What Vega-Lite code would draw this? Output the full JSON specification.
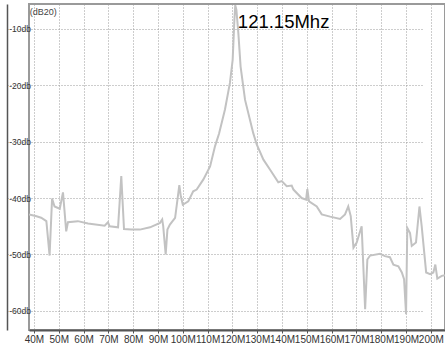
{
  "$schema": "https://vega.github.io/schema/vega-lite/v6.json",
  "autosize": "none",
  "padding": {"left": 29, "top": 4, "right": 0, "bottom": 15},
  "width": 416,
  "height": 326,
  "background": "white",
  "config": {
    "view": {"stroke": "#9a9a9a", "strokeWidth": 2},
    "font": "Liberation Sans",
    "axisX": {
      "title": null,
      "labelFontSize": 10,
      "labelColor": "#333333",
      "labelPadding": 1,
      "labelFlush": false,
      "labelOverlap": false,
      "labelSeparation": 0,
      "labelBound": false,
      "domainColor": "#555555",
      "domainWidth": 2,
      "tickColor": "#555555",
      "tickSize": 3,
      "grid": true,
      "gridColor": "#9a9a9a",
      "gridDash": [1, 2],
      "gridWidth": 1
    },
    "axisY": {
      "title": null,
      "labelFontSize": 8.5,
      "labelColor": "#333333",
      "labelAlign": "right",
      "offset": 22,
      "labelPadding": -23.5,
      "ticks": false,
      "domainColor": "#555555",
      "domainWidth": 1.5,
      "grid": true,
      "gridColor": "#9a9a9a",
      "gridDash": [1, 2],
      "gridWidth": 1
    }
  },
  "layer": [
    {
      "data": {"values": [
        {"f": 38.0, "db": -42.9}, {"f": 40.7, "db": -43.2}, {"f": 42.9, "db": -43.5}, {"f": 45.0, "db": -44.1},
        {"f": 46.3, "db": -50.2}, {"f": 47.3, "db": -40.1}, {"f": 48.3, "db": -41.5}, {"f": 50.4, "db": -41.9},
        {"f": 51.7, "db": -39.0}, {"f": 53.0, "db": -45.9}, {"f": 53.7, "db": -44.3}, {"f": 57.7, "db": -44.1},
        {"f": 61.8, "db": -44.5}, {"f": 68.5, "db": -44.9}, {"f": 69.8, "db": -44.3}, {"f": 70.5, "db": -45.0},
        {"f": 73.9, "db": -45.2}, {"f": 75.2, "db": -36.1}, {"f": 76.3, "db": -45.5}, {"f": 79.2, "db": -45.6},
        {"f": 82.7, "db": -45.6}, {"f": 86.8, "db": -45.2}, {"f": 90.8, "db": -44.4}, {"f": 91.7, "db": -43.8},
        {"f": 92.1, "db": -45.0}, {"f": 93.1, "db": -50.0}, {"f": 93.8, "db": -45.6}, {"f": 94.8, "db": -44.7},
        {"f": 96.9, "db": -43.5}, {"f": 98.6, "db": -37.7}, {"f": 99.2, "db": -39.7}, {"f": 100.0, "db": -41.2},
        {"f": 102.2, "db": -40.6}, {"f": 104.2, "db": -38.8}, {"f": 105.6, "db": -38.5}, {"f": 108.3, "db": -36.7},
        {"f": 111.0, "db": -34.4}, {"f": 113.0, "db": -30.8}, {"f": 114.6, "db": -28.6}, {"f": 117.0, "db": -24.3},
        {"f": 119.0, "db": -19.6}, {"f": 120.1, "db": -15.5}, {"f": 120.8, "db": -8.4}, {"f": 121.15, "db": -5.8},
        {"f": 121.6, "db": -6.6}, {"f": 122.4, "db": -10.8}, {"f": 123.3, "db": -16.7}, {"f": 125.1, "db": -22.6},
        {"f": 128.4, "db": -28.5}, {"f": 129.8, "db": -30.5}, {"f": 132.5, "db": -33.2}, {"f": 135.2, "db": -35.0},
        {"f": 138.5, "db": -37.2}, {"f": 139.9, "db": -37.0}, {"f": 141.9, "db": -37.9}, {"f": 143.9, "db": -37.8},
        {"f": 144.6, "db": -38.5}, {"f": 147.9, "db": -40.0}, {"f": 149.7, "db": -40.3}, {"f": 150.2, "db": -38.4},
        {"f": 150.9, "db": -40.6}, {"f": 154.0, "db": -41.5}, {"f": 156.0, "db": -42.9}, {"f": 159.4, "db": -43.3},
        {"f": 163.4, "db": -43.7}, {"f": 165.4, "db": -42.9}, {"f": 166.7, "db": -41.5}, {"f": 167.7, "db": -43.2},
        {"f": 168.8, "db": -48.8}, {"f": 170.1, "db": -47.9}, {"f": 172.1, "db": -45.0}, {"f": 173.5, "db": -59.7},
        {"f": 174.4, "db": -50.9}, {"f": 175.5, "db": -50.2}, {"f": 179.5, "db": -49.9}, {"f": 181.5, "db": -50.3},
        {"f": 183.5, "db": -50.5}, {"f": 184.9, "db": -51.8}, {"f": 186.9, "db": -52.1}, {"f": 188.3, "db": -53.2},
        {"f": 189.2, "db": -54.4}, {"f": 190.0, "db": -60.6}, {"f": 190.5, "db": -45.3}, {"f": 191.6, "db": -46.2},
        {"f": 192.3, "db": -48.5}, {"f": 194.0, "db": -47.9}, {"f": 195.4, "db": -41.5}, {"f": 196.3, "db": -45.0},
        {"f": 198.1, "db": -53.2}, {"f": 199.7, "db": -53.5}, {"f": 201.0, "db": -53.2}, {"f": 201.8, "db": -51.8},
        {"f": 202.6, "db": -54.3}, {"f": 204.4, "db": -53.8}, {"f": 205.7, "db": -53.7}
      ]},
      "mark": {"type": "line", "color": "#c2c2c2", "strokeWidth": 2, "clip": true},
      "encoding": {
        "x": {
          "field": "f", "type": "quantitative",
          "scale": {"domain": [38.0, 205.7], "nice": false, "zero": false},
          "axis": {
            "values": [40, 50, 60, 70, 80, 90, 100, 110, 120, 130, 140, 150, 160, 170, 180, 190, 200],
            "labelExpr": "datum.value + 'M'",
            "labelOverlap": false
          }
        },
        "y": {
          "field": "db", "type": "quantitative",
          "scale": {"domain": [-63.4, -5.6], "nice": false, "zero": false},
          "axis": {
            "values": [-60, -50, -40, -30, -20, -10],
            "labelExpr": "datum.value + 'db'"
          }
        }
      }
    },
    {
      "data": {"values": [
        {"label": "121.15Mhz", "f": 122.2, "db": -9.9, "size": 18.5, "color": "#000000"},
        {"label": "(dB20)", "f": 38.3, "db": -7.6, "size": 9, "color": "#444444"}
      ]},
      "mark": {"type": "text", "align": "left", "baseline": "alphabetic"},
      "encoding": {
        "x": {"field": "f", "type": "quantitative",
          "axis": {
            "values": [40, 50, 60, 70, 80, 90, 100, 110, 120, 130, 140, 150, 160, 170, 180, 190, 200],
            "labelExpr": "datum.value + 'M'",
            "labelOverlap": false
          }
        },
        "y": {"field": "db", "type": "quantitative",
          "axis": {
            "values": [-60, -50, -40, -30, -20, -10],
            "labelExpr": "datum.value + 'db'"
          }
        },
        "text": {"field": "label"},
        "size": {"field": "size", "type": "quantitative", "scale": null},
        "color": {"field": "color", "type": "nominal", "scale": null}
      }
    }
  ]
}
